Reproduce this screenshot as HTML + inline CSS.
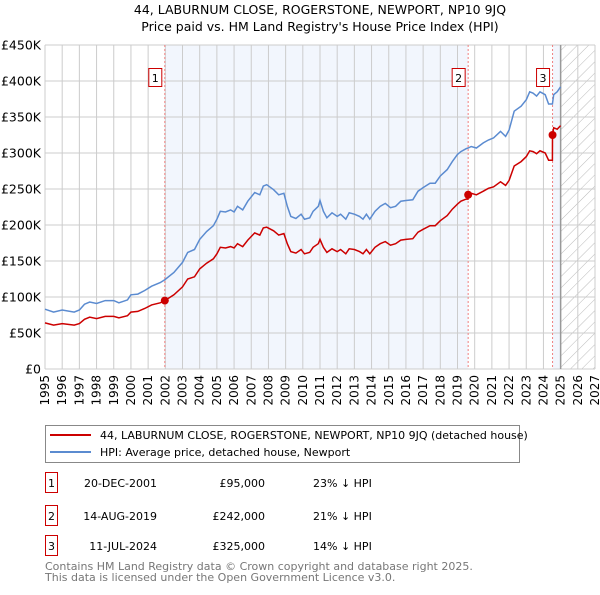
<!DOCTYPE html>
<html><head><meta charset="utf-8"><style>
body{margin:0;background:#fff;font-family:"Liberation Sans","DejaVu Sans",sans-serif;}
svg text{font-family:"DejaVu Sans","Liberation Sans",sans-serif;}
</style></head><body>
<svg id="chart" width="600" height="590" xmlns="http://www.w3.org/2000/svg">
<defs><pattern id="hatch" width="8" height="8" patternUnits="userSpaceOnUse" patternTransform="rotate(45)"><line x1="0" y1="0" x2="0" y2="8" stroke="#bbb" stroke-width="1"/></pattern></defs>
<text x="320" y="14" text-anchor="middle" font-size="12.5">44, LABURNUM CLOSE, ROGERSTONE, NEWPORT, NP10 9JQ</text>
<text x="320" y="31" text-anchor="middle" font-size="12.5">Price paid vs. HM Land Registry's House Price Index (HPI)</text>
<g id="plot"></g>
<g id="legend">
<rect x="45.5" y="425.5" width="474" height="37" fill="#fff" stroke="#888"/>
<line x1="50" y1="435" x2="91" y2="435" stroke="#cc0000" stroke-width="2"/>
<text x="100" y="439" font-size="11">44, LABURNUM CLOSE, ROGERSTONE, NEWPORT, NP10 9JQ (detached house)</text>
<line x1="50" y1="452" x2="91" y2="452" stroke="#5b8bd0" stroke-width="2"/>
<text x="100" y="456" font-size="11">HPI: Average price, detached house, Newport</text>
</g>
<g id="table" font-size="11"></g>
<text x="45" y="570" font-size="11" fill="#777">Contains HM Land Registry data © Crown copyright and database right 2025.</text>
<text x="45" y="581" font-size="11" fill="#777">This data is licensed under the Open Government Licence v3.0.</text>
</svg>
<script>
const years=[1995,1995.5,1996,1996.7,1997,1997.3,1997.6,1998,1998.5,1999,1999.3,1999.8,2000,2000.4,2000.8,2001.2,2001.7,2001.97,2002.5,2003,2003.3,2003.7,2004,2004.4,2004.8,2005,2005.2,2005.5,2005.8,2006,2006.2,2006.5,2006.8,2007.2,2007.5,2007.7,2007.9,2008.3,2008.6,2008.9,2009.1,2009.3,2009.6,2009.9,2010.1,2010.4,2010.6,2010.9,2011,2011.2,2011.4,2011.7,2012,2012.2,2012.5,2012.7,2013,2013.3,2013.5,2013.7,2013.9,2014.2,2014.5,2014.8,2015.1,2015.4,2015.7,2016,2016.4,2016.7,2017,2017.4,2017.7,2018,2018.4,2018.7,2019,2019.2,2019.5,2019.61,2019.62,2019.8,2020.1,2020.5,2020.8,2021.1,2021.5,2021.8,2022,2022.3,2022.7,2023,2023.2,2023.4,2023.6,2023.8,2024.1,2024.3,2024.52,2024.53,2024.6,2024.8,2025];
const hpiValues=[83,79,82,79,82,90,93,91,95,95,92,96,103,104,109,115,120,124,134,148,162,166,180,191,199,208,219,218,221,218,226,221,233,245,242,254,256,249,242,244,226,212,209,215,208,210,219,226,234,219,210,217,212,215,208,217,215,212,208,215,208,219,226,230,224,226,233,234,235,247,252,258,258,268,277,288,298,302,306,307,307,309,307,314,318,321,330,323,332,358,365,374,385,383,379,385,381,368,368,369,381,385,392];
const propValues=[64,61,63,61,63,69,72,70,73,73,71,74,79,80,84,89,92,95,103,114,125,128,139,147,153,160,169,168,170,168,174,170,179,189,186,196,197,192,186,188,174,163,161,166,160,162,169,174,180,169,162,167,163,166,160,167,166,163,160,166,160,169,174,177,172,174,179,180,181,190,194,199,199,206,213,222,229,233,236,236,242,244,242,247,251,253,260,255,262,282,288,295,303,302,299,303,300,290,290,325,335,333,338];
const saleYears=[2001.97,2019.62,2024.53];
const salePrices=[95,242,325];
const saleLabels=["1","2","3"];
const saleDates=["20-DEC-2001","14-AUG-2019","11-JUL-2024"];
const salePriceText=["£95,000","£242,000","£325,000"];
const saleDiffs=["23% ↓ HPI","21% ↓ HPI","14% ↓ HPI"];
const yTicks=[0,50,100,150,200,250,300,350,400,450];
const yTickLabels=["£0","£50K","£100K","£150K","£200K","£250K","£300K","£350K","£400K","£450K"];
const xTicks=[1995,1996,1997,1998,1999,2000,2001,2002,2003,2004,2005,2006,2007,2008,2009,2010,2011,2012,2013,2014,2015,2016,2017,2018,2019,2020,2021,2022,2023,2024,2025,2026,2027];

const L=45,R=595,T=45,B=369,X0=1995,X1=2027,YMAX=450,DATA_END=2025;
const xs=v=>L+(v-X0)/(X1-X0)*(R-L);
const ys=v=>B-v/YMAX*(B-T);
const NS="http://www.w3.org/2000/svg";
const plot=document.getElementById('plot');
function mk(tag,attrs,parent){const e=document.createElementNS(NS,tag);for(const k in attrs)e.setAttribute(k,attrs[k]);(parent||plot).appendChild(e);return e;}

let e=mk('rect',{x:xs(saleYears[0]),y:T,width:xs(saleYears[1])-xs(saleYears[0]),height:B-T,fill:'#eef3fc',opacity:0.75});


e=mk('rect',{x:xs(saleYears[2]),y:T,width:xs(DATA_END)-xs(saleYears[2]),height:B-T,fill:'#eef3fc',opacity:0.75});


e=mk('rect',{x:xs(DATA_END),y:T,width:R-xs(DATA_END),height:B-T,fill:'url(#hatch)'});



xTicks.forEach(t=>{const g=mk('line',{x1:xs(t),x2:xs(t),y1:T,y2:B,stroke:'#ccc','stroke-width':1});


const lb=mk('text',{x:0,y:0,'font-size':12,'text-anchor':'end',transform:`translate(${xs(t)+4},${B+6}) rotate(-90)`});lb.textContent=t;

});
yTicks.forEach((t,i)=>{const g=mk('line',{x1:L,x2:R,y1:ys(t),y2:ys(t),stroke:'#ccc','stroke-width':1});


const lb=mk('text',{x:L-4,y:ys(t)+4.5,'font-size':12.5,'text-anchor':'end'});lb.textContent=yTickLabels[i];

});
e=mk('line',{x1:xs(DATA_END),x2:xs(DATA_END),y1:T,y2:B,stroke:'#999','stroke-width':1.5});



saleYears.forEach((s,i)=>{const l=mk('line',{x1:xs(s),x2:xs(s),y1:T,y2:B,stroke:'#f08080','stroke-dasharray':'2,2','stroke-width':1});


const r=mk('rect',{x:xs(s)-16,y:68.5,width:13,height:18,fill:'#fff',stroke:'#cc0000'});


const t=mk('text',{x:xs(s)-9.5,y:82,'font-size':11,'text-anchor':'middle'});t.textContent=saleLabels[i];

});

const path=vals=>vals.map((v,i)=>(i?'L':'M')+xs(years[i]).toFixed(1)+','+ys(v).toFixed(1)).join('');
e=mk('path',{d:path(hpiValues),fill:'none',stroke:'#5b8bd0','stroke-width':1.5});


e=mk('path',{d:path(propValues),fill:'none',stroke:'#cc0000','stroke-width':1.5});


saleYears.forEach((s,i)=>{const c=mk('circle',{cx:xs(s),cy:ys(salePrices[i]),r:4,fill:'#cc0000'});

});

const tb=document.getElementById('table');
const rowY=[483,516,546];
saleLabels.forEach((lab,i)=>{const y=rowY[i];
let r=mk('rect',{x:45.5,y:y-10.5,width:12,height:20,fill:'#fff',stroke:'#cc0000'},tb);


const cells=[[51.5,lab,'middle'],[157,saleDates[i],'end'],[265,salePriceText[i],'end'],[313,saleDiffs[i],'start']];
cells.forEach(([x,txt,a],j)=>{const t=mk('text',{x:x,y:y+4,'text-anchor':a,'font-size':11},tb);t.textContent=txt;

});});
</script>
</body></html>
